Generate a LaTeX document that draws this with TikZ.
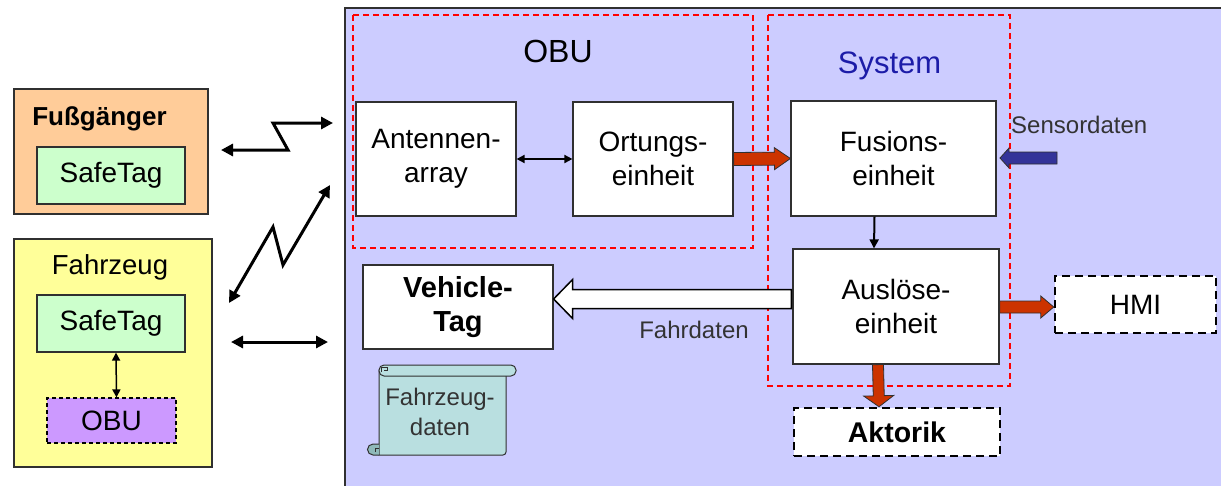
\documentclass[tikz,border=0pt]{standalone}
\usepackage{fontspec}
\setmainfont{Liberation Sans}
\usetikzlibrary{arrows.meta,calc}
\definecolor{panel}{HTML}{CCCCFF}
\definecolor{peach}{HTML}{FFCC99}
\definecolor{lgreen}{HTML}{CCFFCC}
\definecolor{lyellow}{HTML}{FFFF99}
\definecolor{lviolet}{HTML}{CC99FF}
\definecolor{redarr}{HTML}{CC3300}
\definecolor{bluearr}{HTML}{333399}
\definecolor{scrollc}{HTML}{B9DFE0}
\definecolor{scrolld}{HTML}{8FB9BA}
\definecolor{systxt}{HTML}{1C1CA8}
\definecolor{boxline}{HTML}{303030}
\definecolor{lbl}{HTML}{333333}
\newcommand{\blockarr}[6]{%
  \coordinate (ba-h) at ($(#3)!#6!(#2)$);
  \draw[#1] ($(#2)!#4!90:(#3)$) -- ($(ba-h)!#4!90:(#3)$) -- ($(ba-h)!#5!90:(#3)$) -- (#3)
    -- ($(ba-h)!#5!-90:(#3)$) -- ($(ba-h)!#4!-90:(#3)$) -- ($(#2)!#4!-90:(#3)$) -- cycle;
}
\tikzset{
  box/.style={draw=boxline, line width=1.2pt, fill=white, align=center, inner sep=0pt,
    font=\fontsize{28}{34}\selectfont},
  outbox/.style={draw=black, line width=2.5pt, dash pattern=on 8pt off 5pt, fill=white,
    align=center, inner sep=0pt},
  frame/.style={draw=red, line width=1.5pt, dash pattern=on 6pt off 4pt},
  lab/.style={text=lbl, font=\fontsize{24}{30}\selectfont, inner sep=0pt},
  ttl/.style={font=\fontsize{27.5}{33}\selectfont, inner sep=0pt, anchor=base},
  zig/.style={line width=3pt, {Triangle[length=12pt,width=12pt]}-{Triangle[length=12pt,width=12pt]}},
  thin/.style={line width=1.8pt, {Triangle[length=8pt,width=8pt]}-{Triangle[length=8pt,width=8pt]}},
  redblk/.style={fill=redarr, draw=boxline, line width=0.8pt, line join=miter},
  blueblk/.style={fill=bluearr, draw=boxline, line width=0.8pt},
  whiteblk/.style={fill=white, draw=black, line width=1.5pt},
}
\begin{document}
\begin{tikzpicture}[x=1pt,y=-1pt]
\useasboundingbox (0,0) rectangle (1221,485);
% main panel
\fill[panel] (345,8) rectangle (1230,490);
\draw[boxline, line width=1.5pt] (345,490) -- (345,8) -- (1230,8);
% frames
\draw[frame] (353,15) rectangle (753,248);
\draw[frame] (768,15) rectangle (1010,386);
\node[ttl, font=\fontsize{32}{38}\selectfont] (tobu) at (558,62) {OBU};
\node[ttl, font=\fontsize{31}{37}\selectfont, text=systxt] (tsys) at (889.5,73) {System};

% left side
\node[draw=boxline, line width=1.2pt, fill=peach, minimum width=194pt, minimum height=125pt] (ped) at (111,151.5) {};
\node[ttl, font=\fontsize{26}{32}\selectfont\bfseries] (tped) at (99.5,125) {Fußgänger};
\node[box, fill=lgreen, minimum width=148pt, minimum height=57pt] (st1) at (111,175.5) {SafeTag};
\node[draw=boxline, line width=1.2pt, fill=lyellow, minimum width=198pt, minimum height=228pt] (veh) at (113,353) {};
\node[ttl] (tveh) at (110,274) {Fahrzeug};
\node[box, fill=lgreen, minimum width=148pt, minimum height=57pt] (st2) at (111,323.5) {SafeTag};
\node[box, fill=lviolet, draw=black, dash pattern=on 4pt off 3pt, minimum width=129pt, minimum height=45pt] (obus) at (111.5,420.5) {OBU};
\draw[thin, line width=1.5pt] ($(st2.south)+(5,0)$) -- ($(obus.north)+(5,0)$);

% zigzag arrows
\coordinate (z1a) at (221,150);
\coordinate (z1b) at (333,123);
\draw[zig, line join=miter] (z1a) -- (288,150) -- (273,123) -- (z1b);
\coordinate (z2a) at (229,303);
\coordinate (z2b) at (330,185);
\draw[zig, line join=miter] (z2a) -- (273,227) -- (283,265) -- (z2b);
\coordinate (z3a) at (231,342);
\coordinate (z3b) at (328,342);
\draw[zig] (z3a) -- (z3b);

% boxes
\node[box, minimum width=160pt, minimum height=114pt] (ant) at (436,159) {Antennen-\\array};
\node[box, minimum width=160pt, minimum height=114pt] (ort) at (653,159) {Ortungs-\\einheit};
\node[box, minimum width=205pt, minimum height=115pt] (fus) at (893.5,158.5) {Fusions-\\einheit};
\node[box, minimum width=206pt, minimum height=115pt] (aus) at (896,306.5) {Auslöse-\\einheit};
\node[box, font=\fontsize{29}{34}\selectfont\bfseries, minimum width=190pt, minimum height=84pt] (vt) at (458,307) {Vehicle-\\Tag};
\node[outbox, font=\fontsize{28}{33}\selectfont, minimum width=161pt, minimum height=57pt] (hmi) at (1135.5,304.5) {HMI};
\node[outbox, font=\fontsize{28.5}{33}\selectfont\bfseries, minimum width=206pt, minimum height=48pt] (akt) at (897,432) {Aktorik};

% labels
\node[lab, anchor=base west] (sens) at (1011,133) {Sensordaten};
\node[lab, anchor=base] (fahr) at (694,338) {Fahrdaten};

% connectors
\draw[thin] (ant.east) -- (ort.west);
\draw[line width=2pt, -{Triangle[length=9pt,width=9pt]}] ($(fus.south)+(-19,0)$) -- ($(aus.north)+(-22,0)$);
\blockarr{redblk}{ort.east}{fus.west}{6.5pt}{11pt}{16pt}
\coordinate (sensa) at (1057,158);
\coordinate (sensb) at (1000,158);
\blockarr{blueblk}{sensa}{sensb}{6pt}{10pt}{9pt}
\coordinate (hmia) at ($(aus.east)+(0,0.5)$);
\coordinate (hmib) at (hmi.west |- hmia);
\blockarr{redblk}{hmia}{hmib}{6pt}{11pt}{13pt}
\coordinate (akta) at ($(aus.south)+(-18,0)$);
\coordinate (aktb) at ($(akt.north)+(-18,0)$);
\blockarr{redblk}{akta}{aktb}{5.5pt}{15pt}{11pt}
\coordinate (vta) at ($(aus.west)+(-1,-7.5)$);
\coordinate (vtb) at ($(vt.east)+(0,-8)$);
\blockarr{whiteblk}{vta}{vtb}{9.5pt}{19.5pt}{19pt}

% scroll
\draw[fill=scrollc, draw=boxline, line width=1pt] (379,370) -- (506,370) -- (506,452) to[out=-90,in=0] (503,455) -- (379,455) -- cycle;
\draw[fill=scrollc, draw=boxline, line width=1pt, rounded corners=5pt] (379,365) rectangle (516,376);
\draw[boxline, line width=0.8pt] (381,372) -- (381,367) -- (387,367) -- (387,370) -- (384,370);
\draw[fill=scrolld, draw=boxline, line width=1pt] (379,444) -- (373,444) arc[start angle=90, end angle=270, radius=5.5pt] -- (379,455);
\draw[boxline, line width=0.8pt] (375,452) -- (375,448) -- (379,448);
\node[lab, align=center, font=\fontsize{24}{30}\selectfont] (fzd) at (440,412) {Fahrzeug-\\daten};
\end{tikzpicture}
\end{document}
